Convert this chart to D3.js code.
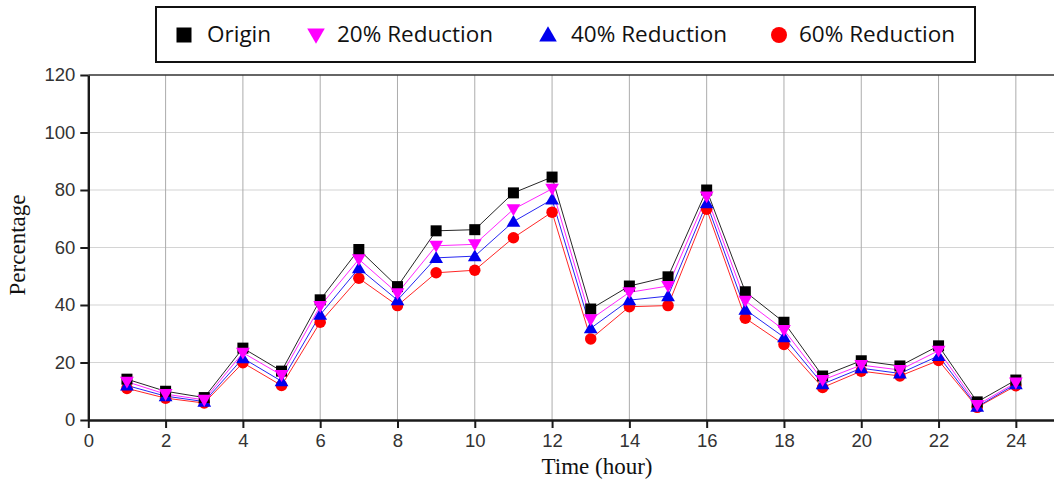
<!DOCTYPE html>
<html>
<head>
<meta charset="utf-8">
<script src="https://cdn.jsdelivr.net/npm/d3@7/dist/d3.min.js"></script>
<style>
  html, body { margin: 0; padding: 0; background: #fff; }
  svg { display: block; }
</style>
</head>
<body>
<svg id="chart" width="1054" height="482"></svg>
<script>
// Hourly percentage for the original profile and three reduction scenarios
const hours = [1, 2, 3, 4, 5, 6, 7, 8, 9, 10, 11, 12, 13, 14, 15, 16, 17, 18, 19, 20, 21, 22, 23, 24];
const origin    = [14.2, 10.0, 7.8, 25.0, 17.0, 41.8, 59.3, 46.4, 65.8, 66.2, 79.0, 84.5, 38.6, 46.6, 49.8, 80.0, 44.6, 34.0, 15.3, 20.6, 18.8, 25.8, 6.3, 13.9];
const red20     = [13.3, 9.0, 7.0, 23.4, 15.6, 39.6, 55.9, 44.1, 60.6, 61.1, 73.3, 80.4, 35.0, 44.4, 46.6, 77.7, 41.5, 31.3, 13.9, 19.1, 17.4, 24.1, 5.2, 13.0];
const red40     = [12.0, 8.3, 6.4, 21.5, 13.5, 36.6, 52.8, 41.7, 56.4, 57.0, 69.0, 76.7, 31.9, 41.7, 43.1, 75.4, 38.4, 28.8, 12.5, 18.0, 16.2, 22.3, 4.6, 12.5];
const red60     = [11.0, 7.6, 5.9, 19.9, 12.0, 34.0, 49.3, 39.8, 51.2, 52.1, 63.4, 72.3, 28.2, 39.4, 39.8, 73.3, 35.4, 26.3, 11.3, 17.0, 15.3, 20.7, 4.4, 11.9];

const seriesNames = ["Origin", "20% Reduction", "40% Reduction", "60% Reduction"];
const seriesColors = ["#000000", "#ff00ff", "#0000ee", "#ff0000"];
const seriesShapes = ["square", "triangleDown", "triangleUp", "circle"];
const seriesValues = [origin, red20, red40, red60];

const xTicks = [0, 2, 4, 6, 8, 10, 12, 14, 16, 18, 20, 22, 24];
const yTicks = [0, 20, 40, 60, 80, 100, 120];

const svg = d3.select("#chart");
const plotLeft = 88.3, plotRight = 1054.5, plotTop = 75, plotBottom = 420;

const x = d3.scaleLinear().domain([0, 25]).range([plotLeft, plotRight]);
const y = d3.scaleLinear().domain([0, 120]).range([plotBottom, plotTop]);

// Grid
const grid = svg.append("g");
grid.selectAll("line.h").data(yTicks.filter(d => d > 0 && d < 120)).enter().append("line")
  .attr("x1", plotLeft).attr("x2", plotRight).attr("y1", d => y(d)).attr("y2", d => y(d))
  .attr("stroke", "#d4d4d4").attr("stroke-width", 1.2);
grid.selectAll("line.v").data(xTicks.filter(d => d > 0).concat([25])).enter().append("line")
  .attr("x1", d => x(d)).attr("x2", d => x(d)).attr("y1", plotTop).attr("y2", plotBottom)
  .attr("stroke", d => d === 25 ? "#cfcfcf" : "#acacac").attr("stroke-width", 1);

// Top frame line
svg.append("line").attr("x1", plotLeft).attr("x2", plotRight).attr("y1", plotTop).attr("y2", plotTop)
  .attr("stroke", "#333").attr("stroke-width", 1.5);

// Axes
const xAxis = svg.append("g").attr("transform", `translate(0,${plotBottom})`)
  .call(d3.axisBottom(x).tickValues(xTicks).tickSize(8).tickSizeOuter(0).tickPadding(6));
const yAxis = svg.append("g").attr("transform", `translate(${plotLeft},0)`)
  .call(d3.axisLeft(y).tickValues(yTicks).tickSize(8).tickSizeOuter(0).tickPadding(5));
[xAxis, yAxis].forEach(a => {
  a.select(".domain").attr("stroke", "#1a1a1a").attr("stroke-width", 2.4);
  a.selectAll(".tick line").attr("stroke", "#1a1a1a").attr("stroke-width", 2);
  a.selectAll(".tick text").attr("fill", "#333").style("font-family", "'Liberation Sans', Arial, sans-serif").style("font-size", "18.5px");
});

// Axis titles
svg.append("text").attr("x", 597).attr("y", 474).attr("text-anchor", "middle")
  .style("font-family", "'Liberation Serif', 'Times New Roman', serif").style("font-size", "23px")
  .attr("fill", "#111").text("Time (hour)");
svg.append("text").attr("transform", "translate(25,245) rotate(-90)").attr("text-anchor", "middle")
  .style("font-family", "'Liberation Serif', 'Times New Roman', serif").style("font-size", "23px")
  .attr("fill", "#111").text("Percentage");

// Marker generator
function marker(sel, shape, color, size) {
  if (shape === "circle") {
    sel.append("circle").attr("r", size / 2).attr("fill", color);
  } else if (shape === "square") {
    sel.append("rect").attr("x", -size / 2).attr("y", -size / 2).attr("width", size).attr("height", size).attr("fill", color);
  } else {
    const h = size * 0.9, w = size * 1.1;
    const pts = shape === "triangleUp"
      ? [[0, -h * 0.6], [w / 2, h * 0.45], [-w / 2, h * 0.45]]
      : [[0, h * 0.6], [w / 2, -h * 0.45], [-w / 2, -h * 0.45]];
    sel.append("path").attr("d", "M" + pts.map(p => p.join(",")).join("L") + "Z").attr("fill", color);
  }
}

// Series: draw order keeps the 20% markers on top
const drawOrder = [3, 2, 0, 1];
const lineGen = d3.line().x((d, i) => x(hours[i])).y(d => y(d));
drawOrder.forEach(k => {
  svg.append("path").datum(seriesValues[k]).attr("d", lineGen)
    .attr("fill", "none").attr("stroke", seriesColors[k]).attr("stroke-width", 1).attr("opacity", 0.85);
});
const markerSize = [11, 12.5, 12.5, 11.5];
drawOrder.forEach(k => {
  const g = svg.append("g");
  seriesValues[k].forEach((v, i) => {
    const m = g.append("g").attr("transform", `translate(${x(hours[i])},${y(v)})`);
    marker(m, seriesShapes[k], seriesColors[k], markerSize[k]);
  });
});

// Legend
const legend = svg.append("g");
legend.append("rect").attr("x", 156).attr("y", 7).attr("width", 819).attr("height", 55)
  .attr("fill", "#fff").attr("stroke", "#111").attr("stroke-width", 2);
const legendMarkerX = [184, 316, 548, 779];
const legendTextX = [207, 337, 571, 799];
const legendMarkerSize = [15, 16, 16, 16];
seriesNames.forEach((name, k) => {
  const m = legend.append("g").attr("transform", `translate(${legendMarkerX[k]},35)`);
  marker(m, seriesShapes[k], seriesColors[k], legendMarkerSize[k]);
  legend.append("text").attr("x", legendTextX[k]).attr("y", 42)
    .style("font-family", "'Open Sans', 'Noto Sans', sans-serif").style("font-size", "22.5px")
    .attr("fill", "#111").text(name);
});
</script>
</body>
</html>
